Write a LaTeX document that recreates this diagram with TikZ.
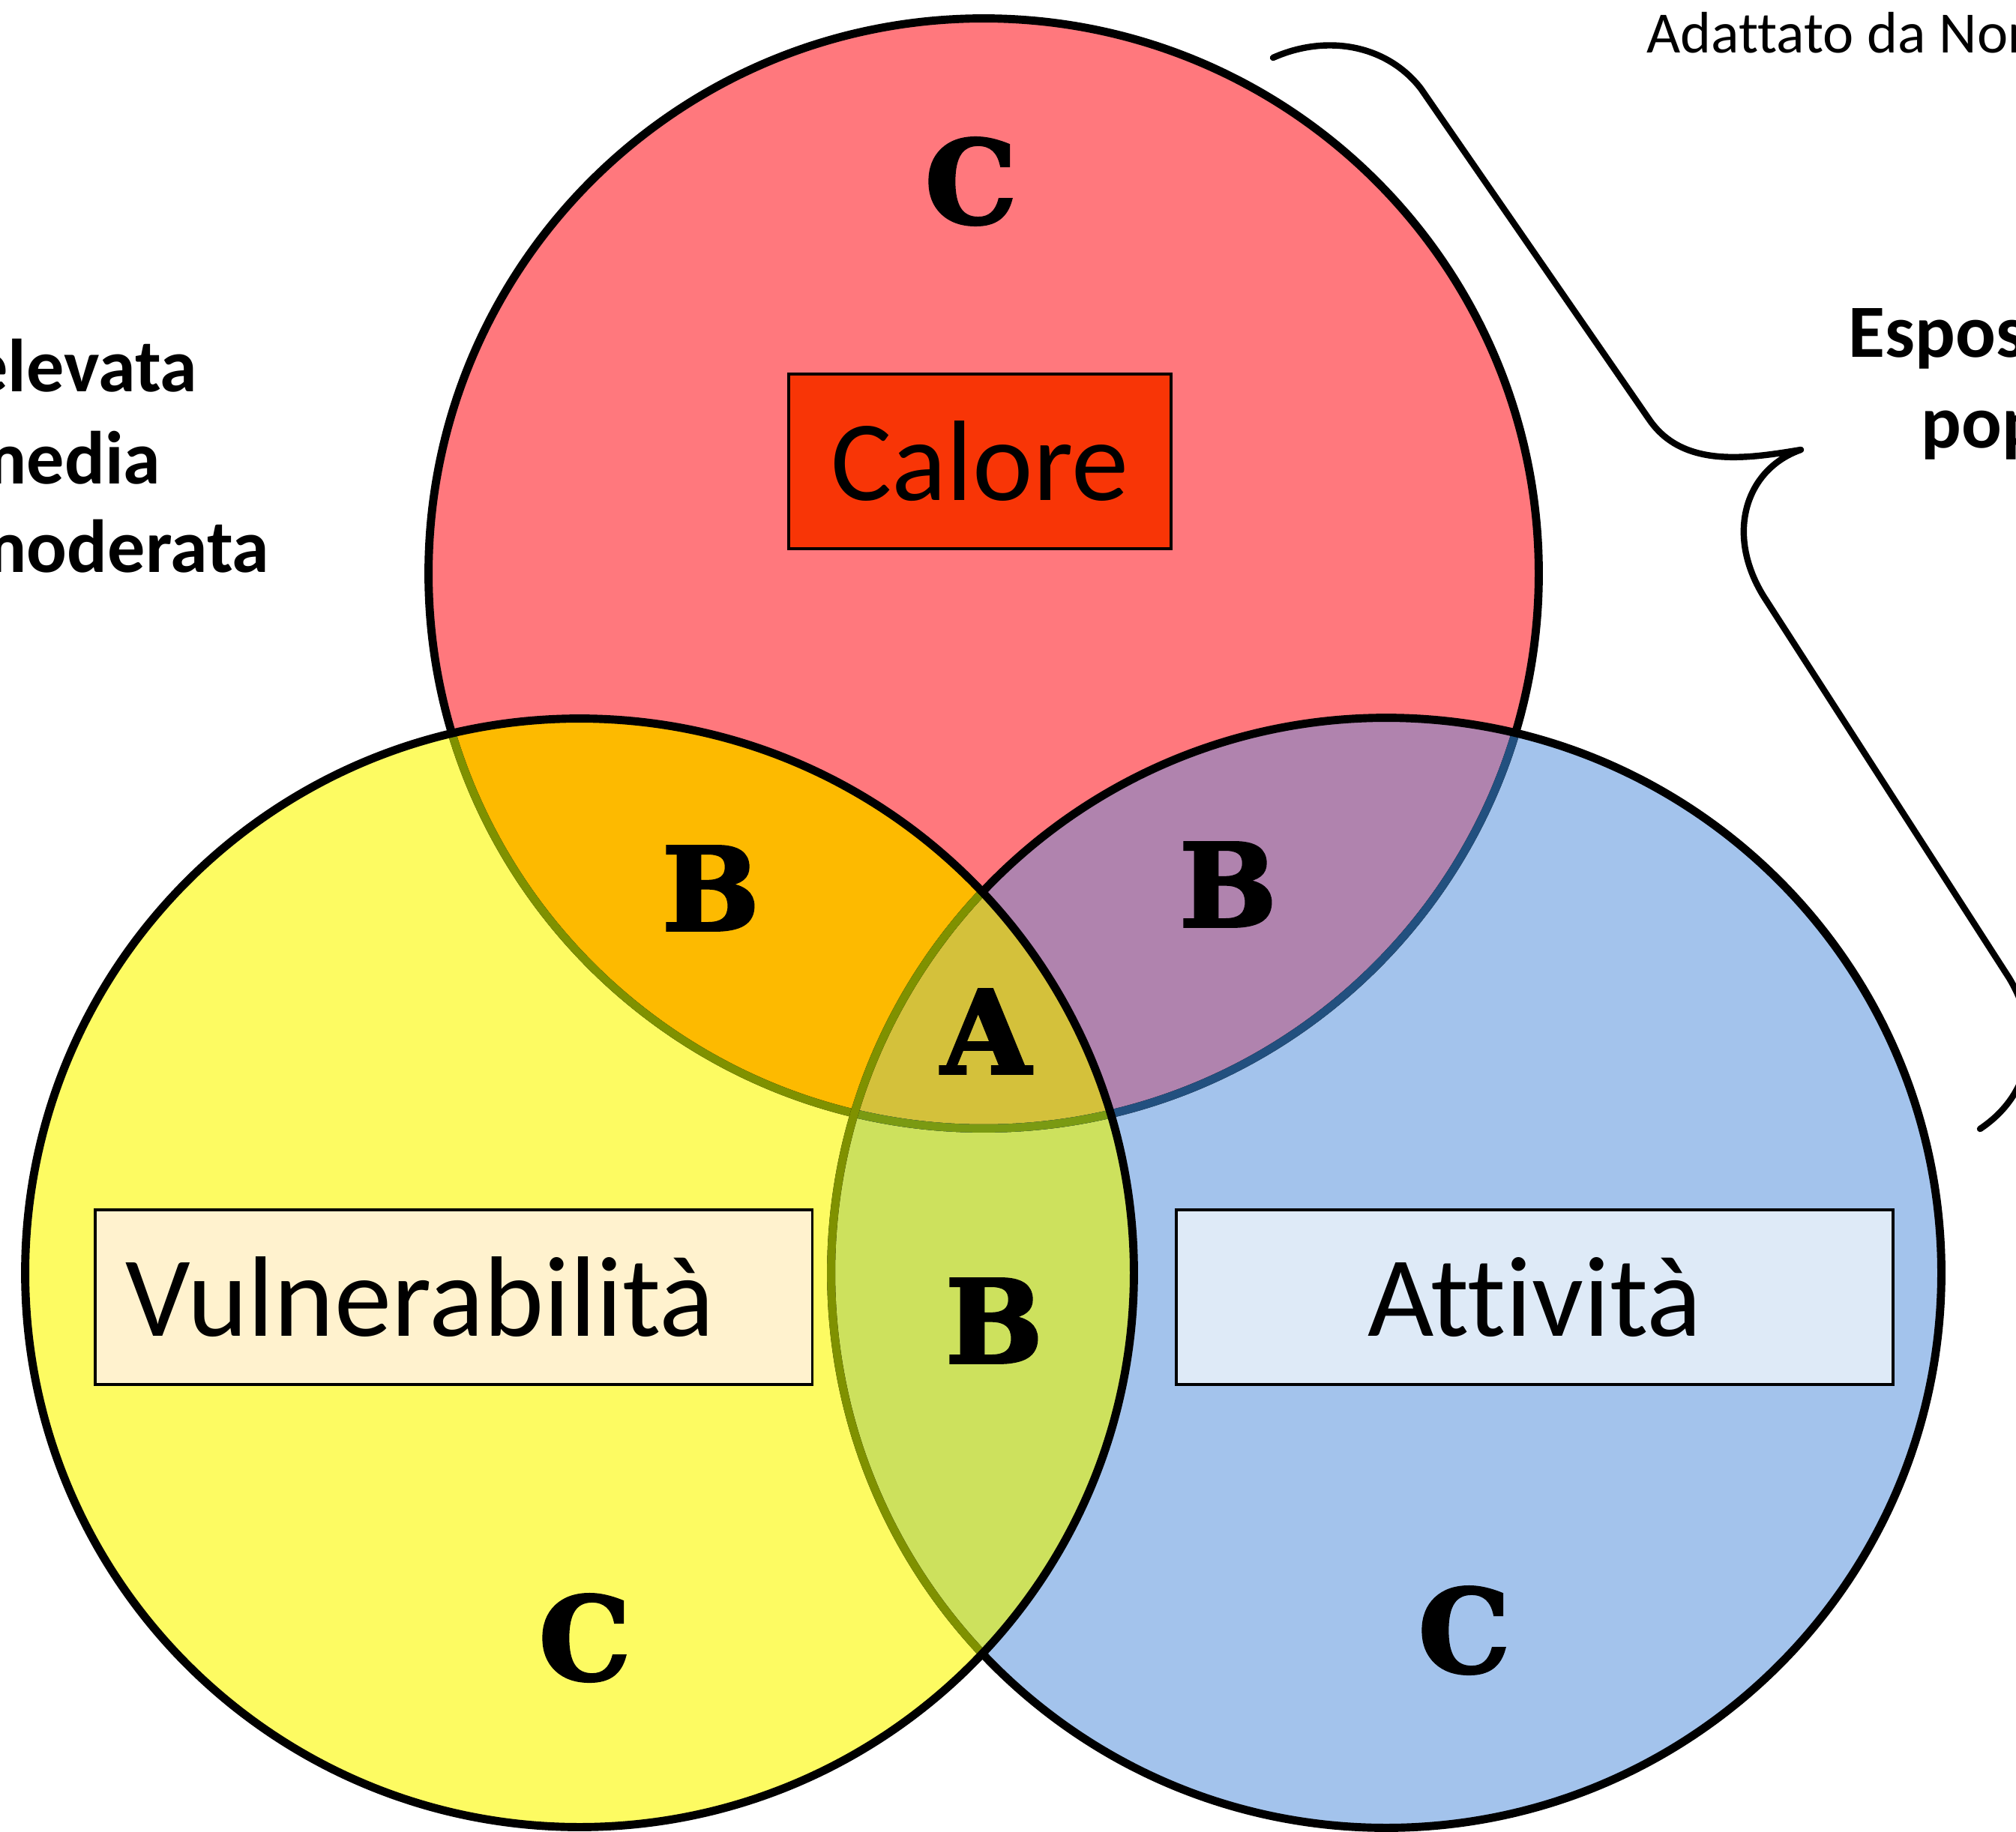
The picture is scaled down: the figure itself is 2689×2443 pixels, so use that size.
\documentclass[tikz,border=0pt]{standalone}
\usepackage{fontspec}
\setmainfont{Carlito}[Ligatures=NoCommon]
\newfontfamily\letterfont{DejaVu Serif}[BoldFeatures={FakeBold=2.5}]
\definecolor{cred}{HTML}{FF787D}
\definecolor{cyel}{HTML}{FDFB62}
\definecolor{cblu}{HTML}{A3C3EC}
\definecolor{corange}{HTML}{FDBA00}
\definecolor{cpurple}{HTML}{B083AE}
\definecolor{cygreen}{HTML}{CDE15D}
\definecolor{colive}{HTML}{D4C13B}
\definecolor{cline}{HTML}{7F9100}
\definecolor{cnavy}{HTML}{22507F}
\definecolor{cgline}{HTML}{7A9A12}
\definecolor{calfill}{HTML}{F83506}
\definecolor{vulfill}{HTML}{FFF2CE}
\definecolor{attfill}{HTML}{DEEAF7}
\begin{document}
\begin{tikzpicture}[x=0.01cm,y=-0.01cm,
  ring/.style={line width=3.1pt},
  lbox/.style={draw=black, line width=1.1pt, inner sep=0pt, minimum height=2.33cm, font=\fontsize{43.4}{50}\selectfont},
  lett/.style={font=\letterfont\bfseries\fontsize{43.7}{50}\selectfont, inner sep=0pt},
  side/.style={font=\bfseries\fontsize{28.5}{34}\selectfont, inner sep=0pt},
  brace/.style={line width=2.4pt, line cap=round, line join=round}]
\useasboundingbox (0,0) rectangle (2689,2443);
\clip (0,0) rectangle (2689,2443);
\fill[white] (0,0) rectangle (2689,2443);
\coordinate (R) at (1312,765);
\coordinate (Y) at (773,1698);
\coordinate (B) at (1849,1698);
\def\rR{7.40cm}\def\rY{7.39cm}\def\rB{7.40cm}
% single regions
\fill[cred] (R) circle[radius=\rR];
\fill[cyel] (Y) circle[radius=\rY];
\fill[cblu] (B) circle[radius=\rB];
% yellow & blue
\begin{scope}
  \clip (Y) circle[radius=\rY];
  \fill[cygreen] (B) circle[radius=\rB];
\end{scope}
% overlaps with red
\begin{scope}
  \clip (R) circle[radius=\rR];
  \fill[corange] (Y) circle[radius=\rY];
  \fill[cpurple] (B) circle[radius=\rB];
  \clip (Y) circle[radius=\rY];
  \fill[colive] (B) circle[radius=\rB];
\end{scope}
% outlines: red
\draw[ring] (R) circle[radius=\rR];
\begin{scope}
  \clip (Y) circle[radius=\rY];
  \draw[ring, cline] (R) circle[radius=\rR];
\end{scope}
\begin{scope}
  \clip (B) circle[radius=\rB];
  \draw[ring, cnavy] (R) circle[radius=\rR];
  \clip (Y) circle[radius=\rY];
  \draw[ring, cgline] (R) circle[radius=\rR];
\end{scope}
% outlines: blue
\draw[ring] (B) circle[radius=\rB];
\begin{scope}
  \clip (Y) circle[radius=\rY];
  \draw[ring, cline] (B) circle[radius=\rB];
\end{scope}
% outline: yellow
\draw[ring] (Y) circle[radius=\rY];
% label boxes
\node[lbox, fill=calfill, minimum width=5.10cm] (calore) at (1307,615.5) {Calore};
\node[lbox, fill=vulfill, anchor=west, text width=8.74cm, inner xsep=0.41cm, align=left] (vuln) at (125,1730.5) {Vulnerabilità};
\node[lbox, fill=attfill, minimum width=9.56cm] (att) at (2047,1730.5) {Attività};
% letters
\node[lett] (c1) at (1295,242) {C};
\node[lett] (b1) at (948,1185) {B};
\node[lett] (b2) at (1638,1180) {B};
\node[lett] (a) at (1315,1376) {A};
\node[lett] (b3) at (1326,1762) {B};
\node[lett] (c2) at (780,2185) {C};
\node[lett] (c3) at (1953,2175) {C};
% side texts
\node[side, anchor=base east] (elev) at (264,522) {elevata};
\node[side, anchor=base east] (med) at (215,645) {media};
\node[side, anchor=base east] (mod) at (360,763) {moderata};
\node[side, anchor=base west] (espos) at (2465,477) {Espos};
\node[side, anchor=base west] (pop) at (2562,597) {pop};
\node[font=\fontsize{22.2}{26}\selectfont, anchor=base west, inner sep=0pt] (src) at (2196,71) {Adattato da Nor};
% brace
\coordinate (brs) at (1698,77);
\coordinate (brtip) at (2402,600);
\coordinate (bre) at (2641,1506);
\draw[brace] (brs) .. controls (1770,45) and (1850,60) .. (1895,118)
  -- (2200,560) .. controls (2245,625) and (2330,612) .. (brtip)
  .. controls (2330,625) and (2300,710) .. (2352,795)
  -- (2680,1305) .. controls (2725,1380) and (2710,1460) .. (bre);
\end{tikzpicture}
\end{document}
